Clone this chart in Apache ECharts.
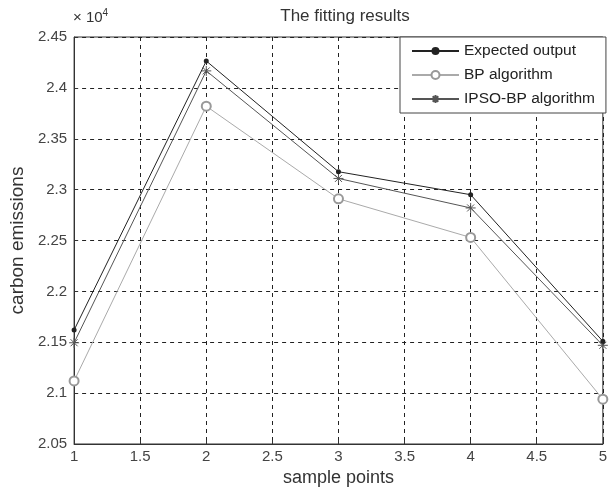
<!DOCTYPE html>
<html>
<head>
<meta charset="utf-8">
<script src="https://cdn.jsdelivr.net/npm/echarts@6/dist/echarts.min.js"></script>
<style>
  html, body { margin: 0; padding: 0; background: #fff; }
  #chart { width: 610px; height: 493px; }
</style>
</head>
<body>
<div id="chart"></div>
<script>
// sample points on x axis
var samplePoints = [1, 2, 3, 4, 5]
// carbon emissions
var expectedOutput = [21620, 24264, 23176, 22950, 21510]
var bpAlgorithm = [21120, 23820, 22910, 22530, 20940]
var ipsoBpAlgorithm = [21495, 24167, 23110, 22820, 21470]
var seriesNames = ['Expected output', 'BP algorithm', 'IPSO-BP algorithm']

var font = 'Liberation Sans, Arial, sans-serif'
var star = 'path://M5,0 L5,10 M0,5 L10,5 M1.5,1.5 L8.5,8.5 M8.5,1.5 L1.5,8.5'

function pairs(vals) {
  var out = []
  for (var i = 0; i < samplePoints.length; i++) {
    out.push([samplePoints[i], vals[i]])
  }
  return out
}

var chart = echarts.init(document.getElementById('chart'))
chart.setOption({
  animation: false,
  backgroundColor: '#fff',
  title: {
    text: 'The fitting results',
    left: 340,
    textAlign: 'center',
    top: 3,
    textStyle: { fontFamily: font, fontWeight: 'normal', fontSize: 17, color: '#333' }
  },
  graphic: [{
    type: 'text',
    left: 73,
    top: 8,
    style: {
      text: '× 10{s|4}',
      rich: { s: { fontSize: 10, verticalAlign: 'top', padding: [0, 0, 9, 0] } },
      font: '15px ' + font,
      fill: '#333'
    }
  }],
  legend: {
    data: seriesNames,
    orient: 'vertical',
    left: 400,
    top: 37,
    padding: [6, 11, 6, 11],
    itemGap: 8,
    itemWidth: 47,
    itemHeight: 10,
    backgroundColor: '#fff',
    borderColor: '#444',
    borderWidth: 1,
    borderRadius: 0,
    textStyle: { fontFamily: font, fontSize: 15.5, color: '#222' }
  },
  grid: {
    left: 74,
    right: 4,
    top: 37,
    bottom: 49,
    show: true,
    borderColor: '#333',
    borderWidth: 1
  },
  xAxis: {
    type: 'value',
    min: 1,
    max: 5,
    interval: 0.5,
    name: 'sample points',
    nameLocation: 'middle',
    nameGap: 11,
    nameTextStyle: { fontFamily: font, fontSize: 18, color: '#333' },
    axisLine: { show: true, lineStyle: { color: '#333' } },
    axisTick: { show: true, inside: true, length: 4, lineStyle: { color: '#333' } },
    axisLabel: { fontFamily: font, fontSize: 15, color: '#444', margin: 5 },
    splitLine: { show: true, lineStyle: { color: '#222', type: [4, 4], width: 1 } }
  },
  yAxis: {
    type: 'value',
    min: 20500,
    max: 24500,
    interval: 500,
    name: 'carbon emissions',
    nameLocation: 'middle',
    nameGap: 47,
    nameTextStyle: { fontFamily: font, fontSize: 19, color: '#333' },
    axisLine: { show: true, lineStyle: { color: '#333' } },
    axisTick: { show: true, inside: true, length: 4, lineStyle: { color: '#333' } },
    axisLabel: {
      fontFamily: font,
      fontSize: 15,
      color: '#444',
      margin: 7,
      formatter: function(v) {
        return String(parseFloat((v / 10000).toFixed(2)))
      }
    },
    splitLine: { show: true, lineStyle: { color: '#222', type: [4, 4], width: 1 } }
  },
  series: [{
    name: seriesNames[0],
    type: 'line',
    data: pairs(expectedOutput),
    symbol: 'circle',
    symbolSize: 5,
    color: '#222',
    lineStyle: { color: '#222', width: 1 },
    itemStyle: { color: '#222' },
    z: 4
  }, {
    name: seriesNames[1],
    type: 'line',
    data: pairs(bpAlgorithm),
    symbol: 'emptyCircle',
    symbolSize: 9,
    color: '#aaa',
    lineStyle: { color: '#aaa', width: 1 },
    itemStyle: { color: '#999', borderWidth: 1 },
    z: 2
  }, {
    name: seriesNames[2],
    type: 'line',
    data: pairs(ipsoBpAlgorithm),
    symbol: star,
    symbolSize: 10,
    color: '#555',
    lineStyle: { color: '#555', width: 1 },
    itemStyle: { color: 'transparent', borderColor: '#555', borderWidth: 1 },
    z: 3
  }]
})
</script>
</body>
</html>
